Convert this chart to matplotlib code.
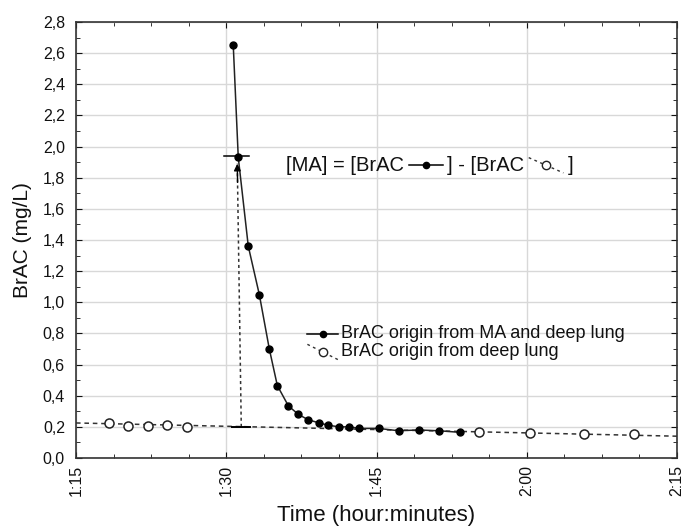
import numpy as np
import matplotlib
matplotlib.use("Agg")
import matplotlib.pyplot as plt
from matplotlib.lines import Line2D
from matplotlib.ticker import MultipleLocator, FuncFormatter
from matplotlib.offsetbox import TextArea, DrawingArea, HPacker, VPacker, AnnotationBbox

plt.rcParams['font.family'] = ['Liberation Sans', 'DejaVu Sans']

# time in minutes since 0:00 (1:15 = 75)
ma_time = [90.7, 91.2, 92.2, 93.3, 94.3, 95.1, 96.2, 97.2, 98.2, 99.3,
           100.2, 101.3, 102.3, 103.3, 105.2, 107.2, 109.2, 111.2, 113.3]
ma_brac = [2.65, 1.93, 1.36, 1.05, 0.70, 0.465, 0.335, 0.28, 0.245, 0.225,
           0.21, 0.20, 0.20, 0.19, 0.19, 0.175, 0.18, 0.175, 0.165]

deep_time = [78.3, 80.2, 82.2, 84.1, 86.1, 115.2, 120.3, 125.7, 130.7]
deep_brac = [0.225, 0.205, 0.205, 0.21, 0.20, 0.165, 0.16, 0.155, 0.155]

# fitted deep lung trend line (ends of the axis)
trend_time = [75, 135]
trend_brac = [0.225, 0.14]

# [MA] marker: arrow from trend to MA curve
arrow_time = [91.5, 91.1]
arrow_brac = [0.20, 1.89]
cap_top = 1.94
cap_bottom = 0.20

xticks = [75, 90, 105, 120, 135]

fig = plt.figure(figsize=(6.95, 5.26), dpi=100)
ax = fig.add_axes([76/695, 1-458/526, (677-76)/695, (458-22)/526])

ax.grid(True, color='#d8d8d8', lw=1)
ax.set_axisbelow(True)

ax.plot(trend_time, trend_brac, ls=(0, (3, 2.5)), color='#333333', lw=1.1, zorder=2)
ax.plot(deep_time, deep_brac, ls='none', marker='o', ms=6.5, mfc='white',
        mec='#222222', mew=1.1, zorder=3)
ax.plot(ma_time, ma_brac, color='#222222', lw=1.1, marker='o', ms=5,
        mfc='black', mec='black', zorder=4)

# dotted arrow with caps
ax.plot(arrow_time, arrow_brac, ls=(0, (2, 2)), color='#333333', lw=1.1, zorder=3)
ax.annotate('', xy=(arrow_time[1], arrow_brac[1]), xytext=(arrow_time[1] + 0.03, arrow_brac[1] - 0.12),
            arrowprops=dict(arrowstyle='-|>', color='black', lw=1.0,
                            mutation_scale=10, shrinkA=0, shrinkB=0), zorder=5)
ax.plot([89.8, 92.3], [cap_top, cap_top], color='black', lw=1.1, zorder=5)
ax.plot([90.6, 92.4], [cap_bottom, cap_bottom], color='black', lw=1.4, zorder=5)


def solid_handle(w=24, h=10):
    da = DrawingArea(w, h, 0, 0)
    da.add_artist(Line2D([0, w], [h / 2, h / 2], color='black', lw=1.1))
    da.add_artist(Line2D([w / 2], [h / 2], marker='o', ms=4.5, color='black'))
    return da


def open_handle(w=24, h=11):
    da = DrawingArea(w, h, 0, 0)
    da.add_artist(Line2D([0, w], [h, 0], color='#333333', lw=1.0, ls=(0, (2, 2.5))))
    da.add_artist(Line2D([w / 2], [h / 2], marker='o', ms=6, mfc='white',
                         mec='#222222', mew=1.0))
    return da


tp = dict(fontsize=14.5, color='#111111')
eq = HPacker(children=[TextArea('[MA] = [BrAC', textprops=tp), solid_handle(25),
                       TextArea('] - [BrAC', textprops=tp), open_handle(25),
                       TextArea(']', textprops=tp)],
             align='center', pad=0, sep=3)
ax.add_artist(AnnotationBbox(eq, (96.0, 1.88), xycoords='data', box_alignment=(0, 0.5),
                             frameon=False, pad=0))

lp = dict(fontsize=13, color='#111111')
leg = VPacker(children=[
    HPacker(children=[solid_handle(22), TextArea('BrAC origin from MA and deep lung', textprops=lp)],
            align='center', pad=0, sep=2),
    HPacker(children=[open_handle(22), TextArea('BrAC origin from deep lung', textprops=lp)],
            align='center', pad=0, sep=2)],
    align='left', pad=0, sep=1)
ax.add_artist(AnnotationBbox(leg, (98.1, 0.74), xycoords='data', box_alignment=(0, 0.5),
                             frameon=False, pad=0))

ax.set_xlim(75, 135)
ax.set_ylim(0, 2.8)
ax.set_xticks(xticks)
ax.xaxis.set_major_formatter(FuncFormatter(lambda v, p: f"{int(v)//60}:{int(v)%60:02d}"))
ax.yaxis.set_major_locator(MultipleLocator(0.2))
ax.yaxis.set_minor_locator(MultipleLocator(0.1))
ax.xaxis.set_minor_locator(MultipleLocator(3.75))
ax.yaxis.set_major_formatter(FuncFormatter(lambda v, p: f"{v:.1f}".replace('.', ',')))
ax.tick_params(axis='both', which='both', direction='in', top=True, right=True,
               labelsize=11.5, colors='#111111')
ax.tick_params(which='major', length=4)
ax.tick_params(which='minor', length=3)
ax.tick_params(axis='x', labelrotation=90, pad=5)
ax.tick_params(axis='y', pad=8)
for s in ax.spines.values():
    s.set_color('#333333')
    s.set_linewidth(1.2)

ax.set_xlabel('Time (hour:minutes)', fontsize=16, color='#111111', labelpad=6)
ax.set_ylabel('BrAC (mg/L)', fontsize=15, color='#111111', labelpad=8)

fig.savefig('out.png', dpi=100)
